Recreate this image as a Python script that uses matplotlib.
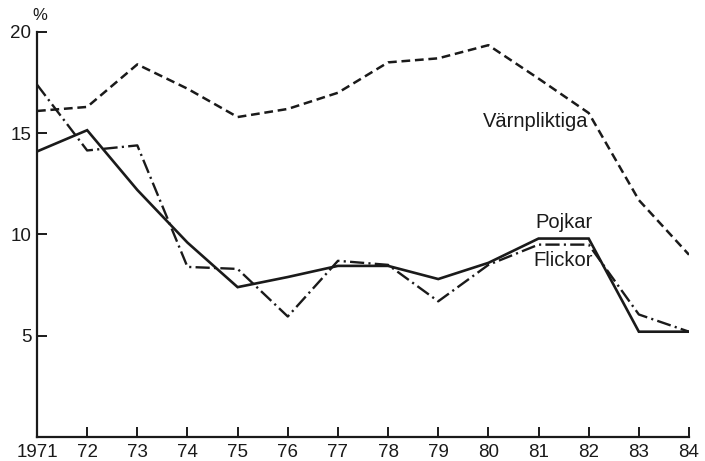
import matplotlib
matplotlib.use("Agg")
import matplotlib.pyplot as plt

plt.rcParams['font.family'] = ['Liberation Sans', 'DejaVu Sans']

years = [1971, 1972, 1973, 1974, 1975, 1976, 1977, 1978, 1979, 1980, 1981, 1982, 1983, 1984]
year_labels = ["1971", "72", "73", "74", "75", "76", "77", "78", "79", "80", "81", "82", "83", "84"]
varnpliktiga = [16.1, 16.3, 18.4, 17.2, 15.8, 16.2, 17.0, 18.5, 18.7, 19.35, 17.7, 16.0, 11.7, 9.0]
pojkar = [14.1, 15.15, 12.2, 9.6, 7.4, 7.9, 8.45, 8.45, 7.8, 8.6, 9.8, 9.8, 5.2, 5.2]
flickor = [17.4, 14.15, 14.4, 8.4, 8.3, 5.95, 8.7, 8.5, 6.7, 8.5, 9.5, 9.5, 6.05, 5.2]
y_ticks = [5, 10, 15, 20]

fig = plt.figure(figsize=(7.05, 4.61), dpi=100)
ax = fig.add_axes([37/705, 1 - 437/461, (689 - 37)/705, (437 - 32)/461])

ax.plot(years, varnpliktiga, color='#1a1a1a', lw=1.8, dashes=(3.5, 1.9), solid_joinstyle='miter')
ax.plot(years, pojkar, color='#1a1a1a', lw=1.9, solid_joinstyle='miter')
ax.plot(years, flickor, color='#1a1a1a', lw=1.7, dashes=(6.0, 1.8, 0.9, 1.8))

ax.set_xlim(1971, 1984)
ax.set_ylim(0, 20)
for s in ['top', 'right']:
    ax.spines[s].set_visible(False)
for s in ['left', 'bottom']:
    ax.spines[s].set_linewidth(1.6)
    ax.spines[s].set_color('#1a1a1a')

ax.set_xticks(years)
ax.set_xticklabels(year_labels)
ax.set_yticks(y_ticks)
ax.set_yticklabels([str(v) for v in y_ticks])
ax.tick_params(axis='both', direction='in', length=7, width=1.4, color='#1a1a1a',
               labelsize=13.5, labelcolor='#1a1a1a')
ax.tick_params(axis='x', pad=5)
ax.tick_params(axis='y', pad=4)

ax.text(1971.05, 20.45, "%", fontsize=12, color='#1a1a1a', ha='center', va='bottom')
ax.text(1982.0, 15.6, "Värnpliktiga", fontsize=14.5, color='#1a1a1a', ha='right', va='center')
ax.text(1981.5, 10.6, "Pojkar", fontsize=14.5, color='#1a1a1a', ha='center', va='center')
ax.text(1981.5, 8.7, "Flickor", fontsize=14.5, color='#1a1a1a', ha='center', va='center')

fig.savefig("out.png", dpi=100)
